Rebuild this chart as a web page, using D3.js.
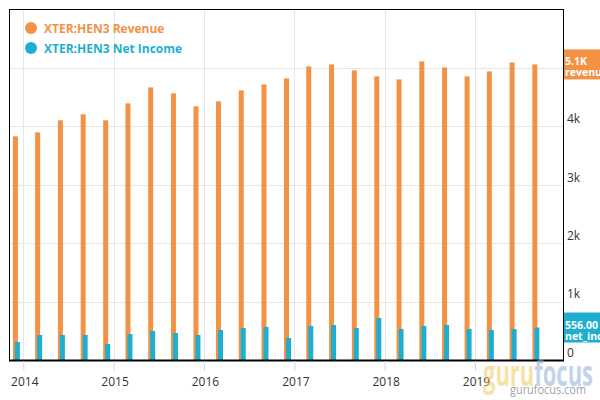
<!DOCTYPE html>
<html>
<head>
<meta charset="utf-8">
<script src="https://cdn.jsdelivr.net/npm/d3@7"></script>
<style>
  html, body { margin: 0; padding: 0; background: #fff; }
  svg { display: block; font-family: "Open Sans", "Noto Sans", sans-serif; }
</style>
</head>
<body>
<svg id="chart" width="600" height="400"></svg>
<script>
// ---- data ----
const quarterDates = ["2013-11-30","2014-02-28","2014-05-31","2014-08-31","2014-11-30",
  "2015-02-28","2015-05-31","2015-08-31","2015-11-30","2016-02-29","2016-05-31","2016-08-31",
  "2016-11-30","2017-02-28","2017-05-31","2017-08-31","2017-11-30","2018-02-28","2018-05-31",
  "2018-08-31","2018-11-30","2019-02-28","2019-05-31","2019-08-31"];
const revenue = [3829, 3897, 4103, 4205, 4103, 4393, 4667, 4564, 4342, 4427, 4615, 4718,
  4821, 5026, 5060, 4957, 4855, 4803, 5111, 5009, 4855, 4940, 5094, 5060];
const netIncome = [308, 428, 428, 428, 274, 445, 497, 462, 428, 514, 548, 565,
  377, 582, 599, 548, 719, 531, 582, 599, 531, 514, 531, 556];
const seriesNames = ["XTER:HEN3 Revenue", "XTER:HEN3 Net Income"];
const seriesKeys = ["revenue", "net_income"];
const gridTicks = [1000, 2000, 3000, 4000, 5000];
const yLabelTicks = [0, 1000, 2000, 3000, 4000];   // 5k label is hidden behind the value box
const yearTicks = ["2014-01-01","2015-01-01","2016-01-01","2017-01-01","2018-01-01","2019-01-01"];

// ---- layout ----
const colors = ["#f39244", "#1eafd0"];
const plot = { left: 9, top: 9, right: 563, bottom: 360 };
const parse = d3.utcParse("%Y-%m-%d");
const dates = quarterDates.map(parse);
const years = yearTicks.map(parse);

const svg = d3.select("#chart");

const x = d3.scaleUtc()
  .domain([parse("2014-01-01"), parse("2019-01-01")])
  .range([23.3, 475]);
const y = d3.scaleLinear().domain([0, 6000]).range([plot.bottom, 9.5]);

// gridlines
const grid = svg.append("g");
grid.selectAll("line.h").data(gridTicks).join("line")
  .attr("x1", plot.left).attr("x2", plot.right)
  .attr("y1", d => Math.round(y(d)) + 0.5).attr("y2", d => Math.round(y(d)) + 0.5)
  .attr("stroke", "#e6e6e6").attr("stroke-width", 1);
grid.selectAll("line.v").data(years).join("line")
  .attr("x1", d => Math.round(x(d)) + 0.5).attr("x2", d => Math.round(x(d)) + 0.5)
  .attr("y1", plot.top).attr("y2", plot.bottom)
  .attr("stroke", "#e6e6e6").attr("stroke-width", 1);

// bars
const bw = 5;
svg.append("g").selectAll("rect").data(revenue).join("rect")
  .attr("x", (d, i) => x(dates[i]) - 2.5)
  .attr("width", bw)
  .attr("y", d => y(d))
  .attr("height", d => plot.bottom - y(d))
  .attr("fill", colors[0]);
svg.append("g").selectAll("rect").data(netIncome).join("rect")
  .attr("x", (d, i) => x(dates[i]) - 0.5)
  .attr("width", bw)
  .attr("y", d => y(d))
  .attr("height", d => plot.bottom - y(d))
  .attr("fill", colors[1]);

// frame
svg.append("rect")
  .attr("x", plot.left + 0.5).attr("y", plot.top + 0.5)
  .attr("width", plot.right - plot.left).attr("height", plot.bottom - plot.top)
  .attr("fill", "none").attr("stroke", "#000").attr("stroke-width", 1);
svg.append("line")
  .attr("x1", plot.left).attr("x2", plot.right + 1)
  .attr("y1", plot.bottom + 0.5).attr("y2", plot.bottom + 0.5)
  .attr("stroke", "#000").attr("stroke-width", 2);

// x axis
const xAxis = d3.axisBottom(x).tickValues(years).tickSize(10).tickSizeOuter(0)
  .tickFormat(d3.utcFormat("%Y")).tickPadding(6);
const gx = svg.append("g").attr("transform", `translate(0,${plot.bottom + 1})`).call(xAxis);
gx.select(".domain").remove();
gx.selectAll(".tick line").attr("stroke", "#ccd6eb");
gx.selectAll(".tick text").attr("font-size", 12).attr("fill", "#333")
  .attr("font-family", "'Open Sans', sans-serif").attr("dx", 1);

// right axis
const yAxis = d3.axisRight(y).tickValues(yLabelTicks).tickSize(0).tickPadding(0)
  .tickFormat(d => d === 0 ? "0" : (d / 1000) + "k");
const gy = svg.append("g").attr("transform", `translate(${plot.right + 4},0)`).call(yAxis);
gy.select(".domain").remove();
gy.selectAll(".tick text").attr("font-size", 12).attr("fill", "#333")
  .attr("dy", "-0.3em").attr("font-family", "'Open Sans', sans-serif");

// last-value labels (clipped at the right edge of the picture, as in the reference)
const lastLabels = [
  { v: revenue[revenue.length - 1], txt: (d3.format(".1f")(revenue[revenue.length - 1] / 1000)) + "K", key: seriesKeys[0], c: colors[0] },
  { v: netIncome[netIncome.length - 1], txt: d3.format(".2f")(netIncome[netIncome.length - 1]), key: seriesKeys[1], c: colors[1] }
];
svg.append("clipPath").attr("id", "edge").append("rect")
  .attr("x", 0).attr("y", 0).attr("width", 600).attr("height", 400);
lastLabels.forEach(l => {
  const cy = y(l.v);
  const g = svg.append("g").attr("clip-path", "url(#edge)");
  g.append("rect").attr("x", plot.right + 1).attr("y", cy - 15).attr("width", 40).attr("height", 30).attr("fill", l.c);
  g.append("text").attr("x", plot.right + 2).attr("y", cy + 1).text(l.txt)
    .attr("fill", "#fff").attr("font-size", 10.5).attr("font-weight", "bold");
  g.append("text").attr("x", plot.right + 2).attr("y", cy + 12).text(l.key)
    .attr("fill", "#fff").attr("font-size", 10.5).attr("font-weight", "bold");
});

// legend
const lg = svg.append("g");
seriesNames.forEach((n, i) => {
  const cy = 28 + i * 20;
  lg.append("circle").attr("cx", 31).attr("cy", cy).attr("r", 6).attr("fill", colors[i]);
  lg.append("text").attr("x", 44).attr("y", cy + 5).text(n)
    .attr("fill", colors[i]).attr("font-size", 12).attr("font-weight", "bold");
});

// watermark
const wm = svg.append("g").attr("opacity", 0.55);
wm.append("text").attr("x", 510).attr("y", 394).text("gurufocus.com")
  .attr("font-size", 12).attr("fill", "#555")
  .attr("textLength", 76).attr("lengthAdjust", "spacingAndGlyphs");
const wt = wm.append("text").attr("x", 483).attr("y", 386)
  .attr("font-size", 36).attr("font-weight", "bold")
  .attr("textLength", 110).attr("lengthAdjust", "spacingAndGlyphs");
wt.append("tspan").text("guru").attr("fill", "#f2cc5c");
wt.append("tspan").text("focus").attr("fill", "#8eb0dc");
</script>
</body>
</html>
